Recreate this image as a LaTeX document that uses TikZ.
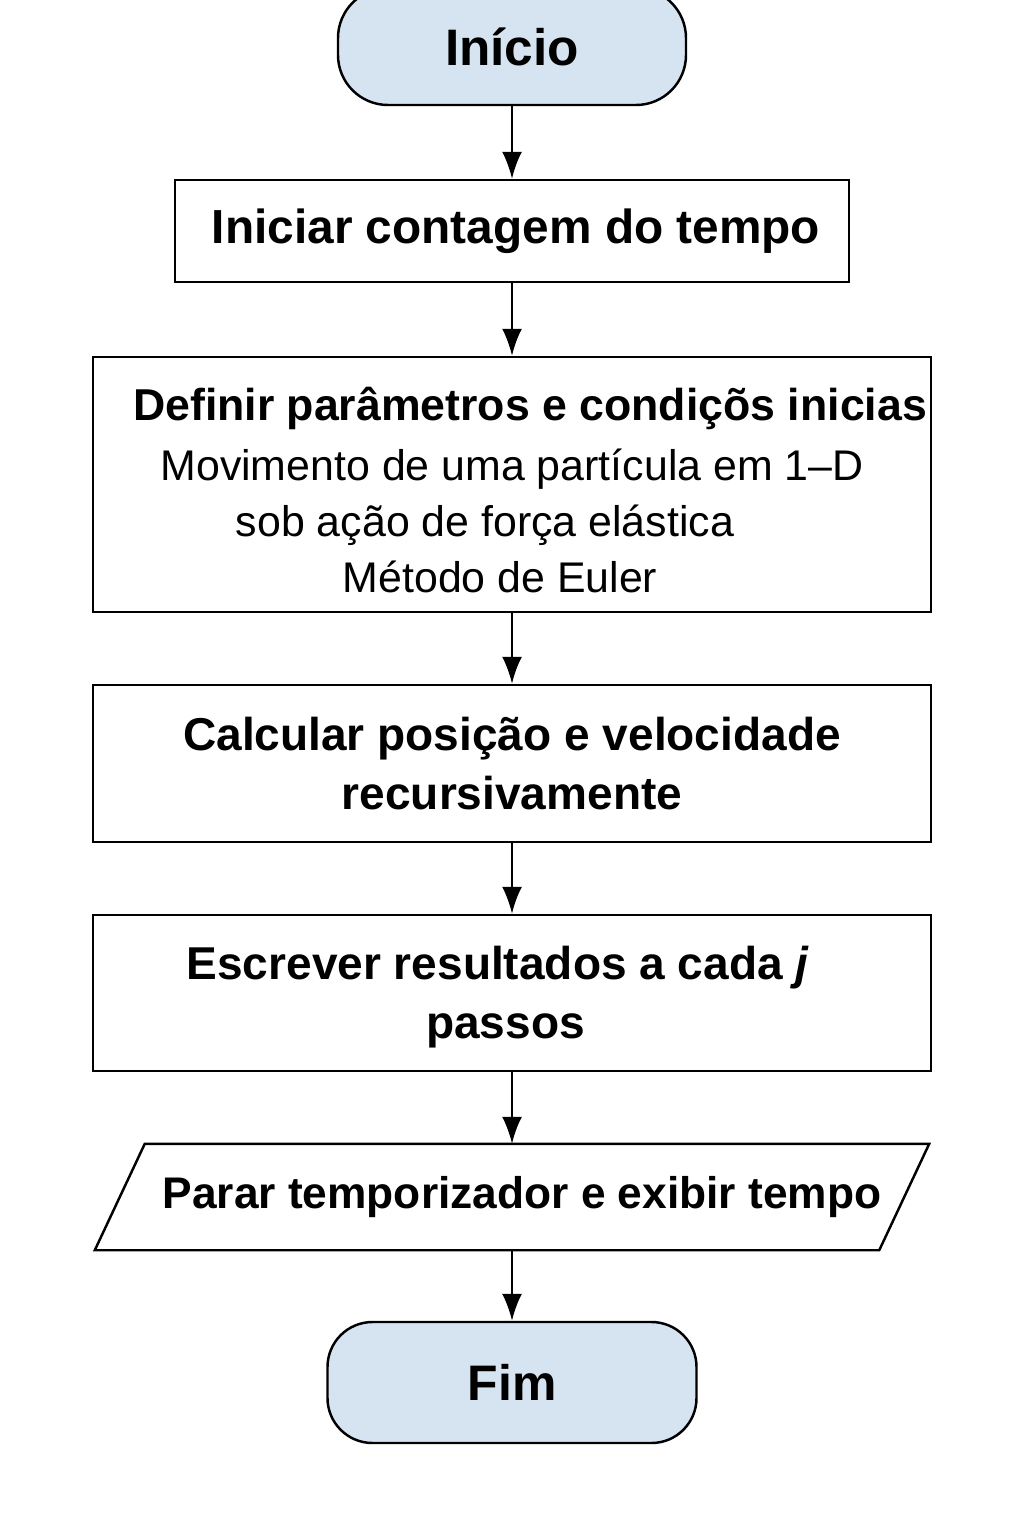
\documentclass[tikz,border=0pt]{standalone}
\usepackage{fontspec}
\setmainfont{Liberation Sans}
\usetikzlibrary{arrows.meta}
\definecolor{termblue}{RGB}{214,228,242}

\tikzset{
  term/.style={draw,fill=termblue,rounded corners=0.5cm,inner sep=0pt,align=center,
    font=\fontsize{14.6}{17}\selectfont\bfseries},
  proc/.style={draw,inner sep=0pt,align=center,minimum width=8.38cm},
  io/.style={inner sep=0pt,align=center},
}

\begin{document}
\begin{tikzpicture}[>={Latex[length=2.7mm,width=2mm]},line width=0.7pt]
\useasboundingbox (0,0) rectangle (10.24,-15.36);

\node[term,minimum width=3.48cm,minimum height=1.17cm](inicio) at (5.12,-0.465){Início};
\node[proc,minimum width=6.74cm,minimum height=1.02cm,font=\fontsize{13.6}{16}\selectfont\bfseries](contagem) at (5.12,-2.31){\hspace*{0.08cm}Iniciar contagem do tempo};
\node[proc,minimum height=2.55cm,font=\fontsize{12.2}{15.9}\selectfont](param) at (5.12,-4.845)
  {\hspace*{0.36cm}\rule{0pt}{0.44cm}{\fontsize{12.7}{15.9}\selectfont\bfseries Definir parâmetros e condiçõs inicias}\\[1.1pt]
   Movimento de uma partícula em 1--D\\
   sob ação de força elástica\hspace*{0.54cm}\mbox{}\\
   Método de Euler\hspace*{0.24cm}};
\node[proc,minimum height=1.57cm,font=\fontsize{13.1}{16.8}\selectfont\bfseries](calc) at (5.12,-7.635){Calcular posição e velocidade\\recursivamente};
\node[proc,minimum height=1.56cm,font=\fontsize{13.1}{16.8}\selectfont\bfseries](escrever) at (5.12,-9.93){\rule{0pt}{0.42cm}Escrever resultados a cada \textit{j}\hspace*{0.28cm}\mbox{}\\passos\hspace*{0.13cm}};
\node[io,minimum width=7.82cm,minimum height=1.04cm,font=\fontsize{12.6}{15}\selectfont\bfseries](parar) at (5.12,-11.97){\hspace*{0.2cm}Parar temporizador e exibir tempo};
\draw ([xshift=0.25cm]parar.north west)--([xshift=0.25cm]parar.north east)
  --([xshift=-0.25cm]parar.south east)--([xshift=-0.25cm]parar.south west)--cycle;
\node[term,minimum width=3.69cm,minimum height=1.21cm,rounded corners=0.45cm,font=\fontsize{14.2}{17}\selectfont\bfseries](fim) at (5.12,-13.825){Fim};

\draw[->](inicio)--(contagem);
\draw[->](contagem)--(param);
\draw[->](param)--(calc);
\draw[->](calc)--(escrever);
\draw[->](escrever)--(parar.north);
\draw[->](parar.south)--(fim);
\end{tikzpicture}
\end{document}
